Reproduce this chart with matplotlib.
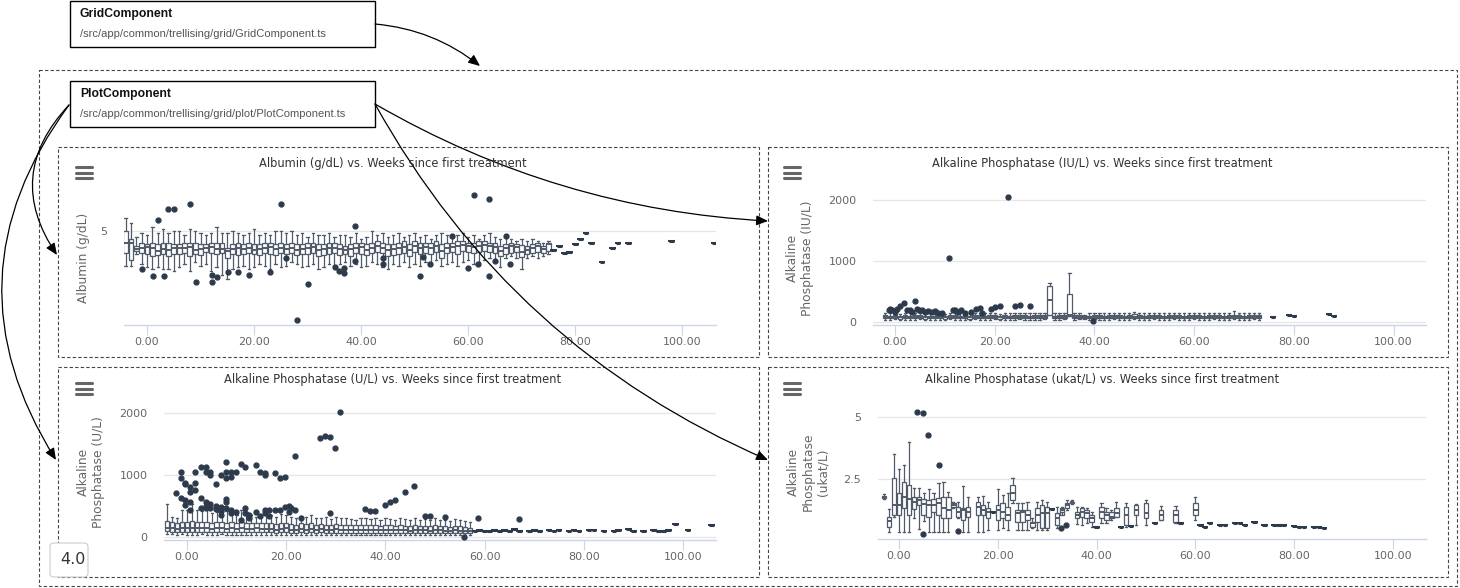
import matplotlib
matplotlib.use('Agg')
import matplotlib.pyplot as plt
from matplotlib.patches import Rectangle, FancyArrowPatch, FancyBboxPatch

W, H = 1460, 588
CF = ['DejaVu Sans']
BOXC = '#505a68'
DOTC = '#2c3a4b'

# ---------------- data ----------------
x_ticks = [0, 20, 40, 60, 80, 100]
x_labels = ['0.00', '20.00', '40.00', '60.00', '80.00', '100.00']

# Panel 1: Albumin (g/dL)
alb_wk = [-4, -3, -2, -1, 0, 1, 2, 3, 4, 5, 6, 7, 8, 9, 10, 11, 12, 13, 14, 15,
          16, 17, 18, 19, 20, 21, 22, 23, 24, 25, 26, 27, 28, 29, 30, 31, 32, 33, 34, 35,
          36, 37, 38, 39, 40, 41, 42, 43, 44, 45, 46, 47, 48, 49, 50, 51, 52, 53, 54, 55,
          56, 57, 58, 59, 60, 61, 62, 63, 64, 65, 66, 67, 68, 69, 70, 71, 72, 73, 74, 75]
alb_lo = [3.2, 3.2, 3.8, 3.3, 3.1, 3.0, 3.1, 3.0, 3.0, 2.9, 3.1, 3.3, 2.9, 3.4, 3.2, 3.3, 2.9, 3.1, 2.7, 2.5,
          3.0, 3.1, 3.2, 3.0, 3.1, 3.3, 3.2, 3.0, 3.3, 3.1, 3.2, 3.4, 3.3, 3.1, 3.2, 3.3, 3.0, 3.1, 3.3, 3.2,
          3.3, 3.4, 3.2, 3.3, 3.1, 3.2, 3.4, 3.3, 3.1, 3.0, 3.3, 3.2, 3.4, 3.1, 3.3, 3.2, 3.4, 3.3, 3.5, 3.2,
          3.3, 3.4, 3.2, 3.4, 3.5, 3.3, 3.4, 3.5, 3.6, 3.4, 3.1, 3.6, 3.7, 3.6, 3.0, 3.6, 3.7, 3.6, 3.7, 3.8]
alb_q1 = [3.85, 3.5, 3.95, 3.85, 3.8, 3.7, 3.75, 3.8, 3.7, 3.8, 3.8, 3.85, 3.7, 3.8, 3.75, 3.9, 3.85, 3.8, 3.85, 3.6,
          3.8, 3.75, 3.8, 3.85, 3.8, 3.75, 3.85, 3.8, 3.75, 3.85, 3.8, 3.85, 3.75, 3.8, 3.8, 3.85, 3.7, 3.75, 3.8, 3.85,
          3.75, 3.8, 3.7, 3.85, 3.8, 3.75, 3.85, 3.9, 3.85, 3.7, 3.75, 3.8, 3.85, 3.7, 3.9, 3.8, 3.85, 3.8, 3.9, 3.6,
          3.85, 3.9, 3.8, 3.95, 3.9, 3.85, 3.9, 3.95, 3.9, 3.85, 3.7, 3.8, 3.85, 3.9, 3.65, 3.8, 3.85, 3.9, 3.85, 3.95]
alb_med = [4.35, 4.4, 4.05, 4.1, 4.15, 4.1, 3.95, 4.05, 4.0, 4.1, 4.1, 4.1, 4.15, 4.0, 4.05, 4.1, 4.15, 4.05, 4.05, 3.95,
           4.05, 4.1, 4.05, 4.1, 4.0, 4.05, 4.1, 4.15, 4.05, 4.1, 4.05, 4.1, 4.0, 4.05, 4.1, 4.15, 4.0, 4.05, 4.1, 4.1,
           4.05, 4.0, 4.05, 4.1, 4.15, 4.0, 4.1, 4.2, 4.1, 4.0, 4.05, 4.1, 4.15, 4.0, 4.2, 4.1, 4.15, 4.1, 4.2, 3.95,
           4.1, 4.15, 4.2, 4.25, 4.2, 4.15, 4.2, 4.25, 4.2, 4.15, 3.95, 4.1, 4.2, 4.15, 3.9, 4.0, 4.1, 4.2, 4.05, 4.3]
alb_q3 = [5.0, 4.6, 4.2, 4.4, 4.3, 4.4, 4.3, 4.4, 4.4, 4.3, 4.3, 4.4, 4.4, 4.4, 4.3, 4.3, 4.4, 4.4, 4.4, 4.1,
          4.3, 4.4, 4.3, 4.4, 4.3, 4.3, 4.4, 4.4, 4.3, 4.4, 4.3, 4.4, 4.3, 4.3, 4.4, 4.4, 4.3, 4.3, 4.4, 4.4,
          4.3, 4.2, 4.3, 4.4, 4.4, 4.3, 4.4, 4.5, 4.4, 4.3, 4.3, 4.4, 4.5, 4.3, 4.5, 4.4, 4.4, 4.4, 4.5, 4.3,
          4.4, 4.4, 4.5, 4.5, 4.4, 4.4, 4.5, 4.5, 4.4, 4.4, 4.2, 4.3, 4.35, 4.3, 4.25, 4.2, 4.3, 4.35, 4.2, 4.4]
alb_hi = [5.7, 5.4, 4.7, 4.9, 4.8, 5.2, 4.9, 5.1, 4.9, 5.0, 5.0, 4.8, 5.1, 5.0, 4.9, 4.8, 4.9, 5.2, 4.9, 4.9,
          5.0, 4.9, 4.8, 4.9, 5.1, 4.8, 4.9, 4.8, 5.0, 5.0, 4.9, 5.0, 4.8, 4.9, 4.7, 4.9, 4.8, 4.8, 4.9, 4.7,
          4.8, 4.8, 4.7, 4.9, 4.6, 4.7, 5.0, 4.8, 4.9, 4.7, 4.8, 4.9, 4.7, 4.8, 4.9, 4.7, 4.8, 4.6, 4.8, 4.9,
          4.8, 4.7, 4.8, 4.9, 4.7, 4.8, 4.6, 4.8, 4.9, 4.7, 4.6, 4.7, 4.6, 4.5, 4.6, 4.5, 4.6, 4.5, 4.4, 4.5]
alb_single_wk = [76, 77, 78, 79, 80, 81, 82, 83, 85, 87, 88, 90, 98, 106]
alb_single_v = [4.0, 4.2, 3.85, 3.9, 4.3, 4.6, 4.88, 4.4, 3.38, 4.1, 4.4, 4.4, 4.5, 4.4]
alb_out_wk = [-0.9, 2.1, 1.1, 3.2, 4.0, 5.0, 8.0, 9.1, 12.1, 12.1, 13.1, 15.1, 17.0, 19.0, 23.0, 25.0, 26.0,
              28.0, 30.0, 35.1, 35.9, 36.8, 36.8, 38.9, 38.9, 44.0, 44.0, 51.0, 51.6, 52.9, 57.0, 60.0,
              61.0, 61.9, 63.9, 63.9, 65.0, 67.9, 67.1]
alb_out_v = [3.02, 5.57, 2.66, 2.66, 6.15, 6.15, 6.4, 2.35, 2.7, 2.35, 2.6, 2.87, 2.87, 2.7, 2.87, 6.4, 3.6,
             0.36, 2.24, 3.12, 2.9, 3.05, 2.8, 5.26, 3.44, 3.6, 3.3, 2.66, 3.65, 3.3, 4.73, 3.05,
             6.9, 3.3, 6.66, 2.66, 3.44, 3.3, 4.75]

# Panel 2: Alkaline Phosphatase (IU/L)
iu_wk = [-2, -1, 0, 1, 2, 3, 4, 5, 6, 7, 8, 9, 10, 11, 12, 13, 14, 15, 16, 17,
         18, 19, 20, 21, 22, 23, 24, 25, 26, 27, 28, 29, 30, 32, 33, 34, 36, 37, 38, 39,
         40, 41, 42, 43, 44, 45, 46, 47, 48, 49, 50, 51, 52, 53, 54, 55, 56, 57, 58, 59,
         60, 61, 62, 63, 64, 65, 66, 67, 68, 69, 70, 71, 72, 73]
iu_lo = [40, 35, 45, 30, 40, 35, 40, 45, 30, 40, 35, 40, 30, 45, 40, 35, 40, 30, 45, 40,
         35, 40, 45, 30, 40, 35, 40, 45, 40, 35, 40, 40, 45, 35, 40, 45, 40, 45, 50, 40,
         45, 40, 35, 40, 45, 40, 35, 40, 45, 40, 35, 40, 45, 40, 35, 40, 45, 40, 35, 40,
         45, 40, 35, 40, 45, 40, 35, 40, 45, 40, 35, 40, 45, 40]
iu_q1 = [65, 60, 70, 55, 65, 60, 70, 65, 55, 60, 60, 65, 55, 70, 65, 60, 65, 55, 70, 65,
         60, 65, 70, 55, 65, 60, 65, 70, 65, 60, 65, 65, 70, 60, 65, 70, 65, 70, 72, 60,
         70, 65, 60, 65, 70, 65, 60, 65, 70, 65, 60, 65, 70, 65, 60, 65, 70, 65, 60, 65,
         70, 65, 60, 65, 70, 65, 60, 65, 70, 65, 60, 65, 70, 65]
iu_med = [85, 80, 90, 75, 85, 80, 90, 85, 75, 80, 80, 85, 75, 90, 85, 80, 85, 75, 90, 85,
          80, 85, 90, 75, 85, 80, 85, 90, 85, 80, 85, 85, 90, 80, 85, 90, 85, 90, 85, 80,
          90, 85, 80, 85, 90, 85, 80, 85, 90, 85, 80, 85, 90, 85, 80, 85, 90, 85, 80, 85,
          90, 85, 80, 85, 90, 85, 80, 85, 90, 85, 80, 85, 90, 85]
iu_q3 = [110, 105, 120, 100, 110, 105, 115, 110, 100, 105, 105, 110, 100, 115, 110, 105, 110, 100, 115, 110,
         105, 110, 115, 100, 110, 105, 110, 115, 110, 105, 110, 110, 115, 105, 110, 115, 110, 115, 100, 105,
         115, 110, 105, 110, 115, 110, 105, 110, 125, 110, 105, 110, 115, 110, 105, 110, 115, 110, 105, 110,
         115, 110, 105, 110, 115, 110, 105, 110, 115, 110, 105, 110, 115, 110]
iu_hi = [150, 140, 160, 130, 150, 140, 155, 150, 130, 140, 140, 150, 130, 155, 150, 140, 150, 130, 155, 150,
         140, 150, 155, 130, 150, 140, 150, 155, 150, 140, 150, 150, 155, 140, 150, 155, 150, 155, 120, 140,
         155, 150, 140, 150, 155, 150, 140, 150, 170, 150, 140, 150, 155, 150, 140, 150, 155, 150, 140, 150,
         155, 150, 140, 150, 155, 150, 140, 150, 175, 150, 140, 150, 155, 150]
iu_big_wk = [31, 35]
iu_big_lo = [110, 100]
iu_big_q1 = [115, 105]
iu_big_med = [360, 110]
iu_big_q3 = [595, 460]
iu_big_hi = [645, 808]
iu_single_wk = [75.8, 79, 80, 87, 88]
iu_single_v = [90, 120, 105, 125, 95]
iu_out_wk = [-1.2, -1.0, -0.6, 0.0, 0.5, 1.0, 1.9, 2.5, 3.0, 3.5, 4.0, 4.4, 4.8, 5.5, 6.0, 6.6, 7.5, 8.0,
             8.6, 9.5, 10.9, 11.6, 12.1, 12.6, 13.3, 14.0, 15.3, 16.2, 17.0, 17.4, 19.2, 20.0, 21.1, 22.7,
             24.1, 25.0, 27.0, 39.8]
iu_out_v = [200, 215, 200, 160, 210, 265, 315, 190, 200, 165, 345, 210, 190, 190, 170, 180, 160, 175,
            150, 140, 1050, 200, 205, 170, 200, 140, 170, 210, 225, 150, 210, 250, 260, 2050,
            265, 275, 265, 20]

# Panel 3: Alkaline Phosphatase (U/L)
ul_wk = [-4, -3, -2, -1, 0, 1, 2, 3, 4, 5, 6, 7, 8, 9, 10, 11, 12, 13, 14, 15,
         16, 17, 18, 19, 20, 21, 22, 23, 24, 25, 26, 27, 28, 29, 30, 31, 32, 33, 34, 35,
         36, 37, 38, 39, 40, 41, 42, 43, 44, 45, 46, 47, 48, 49, 50, 51, 52, 53, 54, 55,
         56, 57]
ul_hi = [540, 330, 300, 440, 430, 540, 440, 420, 470, 380, 400, 470, 420, 380, 360, 430, 400, 360, 330, 340,
         380, 360, 330, 370, 350, 320, 300, 340, 330, 360, 300, 310, 320, 290, 330, 300, 310, 290, 280, 300,
         310, 290, 300, 280, 310, 290, 280, 300, 290, 270, 300, 280, 290, 270, 300, 280, 270, 260, 290, 280,
         260, 250]
ul_q3 = [260, 240, 230, 250, 240, 260, 250, 240, 250, 230, 240, 250, 230, 240, 220, 240, 230, 220, 230, 220,
         230, 220, 210, 220, 230, 210, 200, 220, 210, 220, 200, 210, 200, 190, 210, 200, 190, 200, 190, 200,
         190, 200, 190, 180, 200, 190, 180, 190, 180, 170, 190, 180, 180, 170, 190, 180, 170, 160, 180, 170,
         160, 150]
ul_med = [150, 140, 130, 150, 140, 150, 140, 140, 150, 130, 140, 150, 130, 140, 130, 140, 130, 130, 140, 130,
          130, 130, 120, 130, 140, 120, 120, 130, 120, 130, 120, 130, 120, 115, 125, 120, 115, 120, 115, 120,
          115, 120, 115, 110, 120, 115, 110, 115, 110, 105, 115, 110, 110, 105, 115, 110, 105, 100, 110, 105,
          100, 95]
ul_q1 = [90, 80, 75, 85, 80, 85, 80, 80, 85, 75, 80, 85, 75, 80, 75, 80, 75, 75, 80, 75,
         75, 75, 70, 75, 80, 70, 70, 75, 70, 75, 70, 75, 70, 68, 72, 70, 68, 70, 68, 70,
         68, 70, 68, 65, 70, 68, 65, 68, 65, 62, 68, 65, 65, 62, 68, 65, 62, 60, 65, 62,
         60, 58]
ul_lo = [50, 45, 40, 45, 35, 40, 30, 45, 40, 35, 40, 45, 35, 40, 35, 40, 35, 35, 40, 35,
         35, 40, 30, 35, 40, 30, 35, 40, 30, 35, 30, 35, 30, 35, 40, 30, 35, 30, 35, 30,
         35, 30, 35, 30, 35, 30, 35, 30, 35, 30, 35, 30, 35, 30, 35, 30, 25, 30, 35, 30,
         30, 25]
ul_single_wk = [58, 59, 60, 61, 62, 63, 64, 65, 66, 67, 69, 70, 71, 73, 74, 75, 77, 78, 79, 81,
                82, 84, 86, 87, 89, 90, 92, 94, 95, 96, 97, 98.4, 101, 105.7]
ul_single_v = [100, 110, 95, 105, 120, 100, 110, 95, 130, 100, 105, 115, 100, 120, 95, 110, 105, 115, 100, 110,
               120, 100, 105, 110, 125, 100, 105, 110, 95, 100, 120, 205, 110, 200]
ul_out_wk = [-2.2, -1.2, -1.2, -1.2, -0.3, -0.3, -0.3, -0.3, 0.7, 0.7, 0.7, 0.7, 1.6, 1.6, 1.6, 2.8, 2.8, 2.8,
             3.8, 3.8, 3.8, 3.8, 3.8, 4.6, 4.6, 4.6, 4.6, 5.8, 5.8, 5.8, 6.8, 6.8, 6.8, 6.8, 7.8, 7.8,
             7.8, 7.8, 7.8, 7.8, 8.9, 8.9, 8.9, 8.9, 9.9, 9.9, 10.9, 10.9, 11.7, 11.7, 11.7, 12.5, 12.5,
             13.9, 13.9, 14.7, 14.7, 15.7, 15.7, 15.7, 15.7, 16.5, 16.5, 17.7, 17.7, 18.7, 18.7, 19.7,
             19.7, 20.5, 20.5, 20.9, 21.8, 21.8, 23.0, 26.8, 27.8, 28.8, 29.8, 30.8, 28.8, 35.9, 36.9,
             37.9, 39.9, 40.9, 41.9, 44.0, 45.8, 55.9, 48.0, 49.0, 52.0, 58.7, 67.0]
ul_out_v = [715, 1053, 946, 634, 870, 850, 597, 516, 811, 731, 569, 435, 1043, 866, 758, 634, 476, 1134,
            1134, 1053, 560, 500, 470, 1043, 1000, 530, 470, 850, 500, 450, 1000, 480, 420, 360, 1215, 1053,
            946, 620, 560, 470, 962, 1043, 440, 380, 1043, 400, 1172, 270, 1124, 470, 380, 300, 350,
            1161, 400, 1050, 340, 1000, 1030, 440, 390, 430, 340, 1027, 430, 960, 440, 965,
            490, 500, 400, 470, 1311, 430, 300, 1602, 1634, 1612, 1441, 2011, 382, 452, 419,
            419, 516, 569, 597, 721, 823, 5, 340, 340, 330, 300, 290]

# Panel 4: Alkaline Phosphatase (ukat/L)
uk_wk = [-3, -2, -1, 0, 1, 2, 3, 4, 5, 6, 7, 8, 9, 10, 11, 12, 13, 14, 16, 17,
         18, 20, 21, 22, 23, 24, 25, 26, 27, 28, 29, 30, 32, 33, 34, 35, 36, 37, 38, 39,
         41, 42, 43, 44, 46, 48, 50, 53, 56, 60]
uk_lo = [1.70, 0.38, 0.98, 0.38, 0.38, 0.38, 0.94, 0.47, 0.81, 0.38, 0.38, 0.38, 0.38, 0.38, 1.32, 0.91, 0.38, 0.38, 0.38, 0.38,
         0.45, 0.45, 0.51, 0.45, 1.52, 0.45, 0.45, 0.45, 0.51, 0.45, 0.45, 0.45, 0.51, 1.18, 1.25, 1.50, 0.68, 0.65, 0.72, 0.58,
         0.72, 0.72, 0.85, 0.98, 0.58, 0.65, 0.65, 0.85, 0.72, 0.85]
uk_q1 = [1.72, 0.58, 1.05, 1.05, 1.32, 1.05, 1.29, 1.45, 1.05, 0.98, 1.18, 1.05, 0.94, 0.91, 1.39, 0.98, 0.85, 0.98, 1.05, 1.05,
         0.91, 0.85, 0.91, 0.85, 1.66, 0.78, 0.78, 0.85, 0.58, 0.78, 0.51, 0.51, 0.65, 1.05, 1.32, 1.52, 0.91, 0.98, 0.91, 0.78,
         0.91, 0.85, 0.91, 0.98, 0.65, 1.05, 0.92, 0.85, 0.78, 1.05]
uk_med = [1.78, 0.81, 1.45, 1.45, 1.79, 1.70, 1.59, 1.66, 1.48, 1.45, 1.45, 1.52, 1.32, 1.25, 1.45, 1.18, 1.25, 1.18, 1.39, 1.25,
          1.18, 1.25, 1.18, 1.05, 1.95, 1.12, 1.18, 1.05, 0.72, 1.05, 1.12, 1.12, 0.91, 1.25, 1.45, 1.56, 1.05, 1.18, 1.12, 0.91,
          1.18, 1.05, 0.98, 1.12, 1.05, 1.25, 1.12, 1.05, 1.05, 1.25]
uk_q3 = [1.82, 0.98, 2.53, 1.95, 2.37, 2.26, 1.76, 1.79, 1.70, 1.66, 1.68, 1.72, 1.79, 1.79, 1.52, 1.39, 1.32, 1.39, 1.59, 1.45,
         1.32, 1.45, 1.52, 1.39, 2.26, 1.25, 1.25, 1.25, 0.78, 1.32, 1.45, 1.39, 1.12, 1.32, 1.52, 1.59, 1.18, 1.32, 1.25, 1.05,
         1.39, 1.18, 1.18, 1.32, 1.38, 1.45, 1.52, 1.25, 1.25, 1.52]
uk_hi = [1.90, 1.29, 3.50, 2.90, 3.07, 3.98, 2.13, 2.13, 1.93, 2.10, 1.93, 2.33, 2.37, 1.97, 1.59, 1.59, 2.20, 1.79, 1.79, 1.83,
         1.59, 2.10, 1.86, 1.93, 2.55, 1.52, 1.52, 1.59, 0.91, 1.59, 1.66, 1.59, 1.39, 1.39, 1.66, 1.66, 1.39, 1.39, 1.35, 1.18,
         1.52, 1.32, 1.25, 1.59, 1.52, 1.50, 1.65, 1.40, 1.40, 1.79]
uk_single_wk = [19, 31, 40, 45, 47, 51.8, 57, 61, 62, 63, 65, 66, 68, 69, 70, 72, 74, 76, 77, 78,
                80, 81, 82, 84, 85, 86]
uk_single_v = [1.18, 1.29, 0.58, 0.58, 0.62, 0.72, 0.72, 0.65, 0.58, 0.71, 0.65, 0.65, 0.71, 0.71, 0.65, 0.78, 0.65, 0.65, 0.65, 0.65,
               0.62, 0.58, 0.58, 0.58, 0.58, 0.54]
uk_out_wk = [3.7, 4.9, 5.8, 8.0, 4.9, 12.0, 32.9, 33.9]
uk_out_v = [5.21, 5.18, 4.27, 3.06, 0.30, 0.40, 0.51, 0.64]

# ---------------- drawing ----------------
fig = plt.figure(figsize=(W / 100, H / 100), dpi=100)


def rect(x0, y0, x1, y1):
    return [x0 / W, 1 - y1 / H, (x1 - x0) / W, (y1 - y0) / H]


def boxes(ax, wk, lo, q1, med, q3, hi, width=0.9):
    stats = [dict(whislo=a, q1=b, med=c, q3=d, whishi=e)
             for a, b, c, d, e in zip(lo, q1, med, q3, hi)]
    ax.bxp(stats, positions=wk[:len(stats)], widths=width, showfliers=False, patch_artist=True,
           manage_ticks=False, capwidths=width * 0.5,
           boxprops=dict(facecolor='white', edgecolor=BOXC, lw=0.9),
           medianprops=dict(color=BOXC, lw=1.4),
           whiskerprops=dict(color=BOXC, lw=0.9),
           capprops=dict(color=BOXC, lw=0.9))


def singles(ax, wk, v):
    ax.bxp([dict(whislo=a, q1=a, med=a, q3=a, whishi=a) for a in v], positions=wk,
           widths=0.9, showfliers=False, manage_ticks=False, showcaps=False,
           boxprops=dict(color=DOTC, lw=1.2), medianprops=dict(color=DOTC, lw=2.2),
           whiskerprops=dict(color=DOTC, lw=0.5))


def outliers(ax, wk, v):
    ax.plot(wk, v, 'o', ms=3.5, color=DOTC, mec=DOTC, zorder=5, clip_on=False)


def setup(ax, xlim, ylim, yticks, ylabels):
    ax.set_xlim(*xlim)
    ax.set_ylim(*ylim)
    ax.patch.set_alpha(0)
    for s in ['top', 'right', 'left']:
        ax.spines[s].set_visible(False)
    ax.spines['bottom'].set_color('#ccd6eb')
    ax.spines['bottom'].set_linewidth(1.0)
    ax.set_xticks(x_ticks)
    ax.set_xticklabels(x_labels, family=CF)
    ax.set_yticks(yticks)
    ax.set_yticklabels(ylabels, family=CF)
    ax.tick_params(axis='x', length=7, width=0.8, color='#ccd6eb', labelcolor='#666666',
                   labelsize=8, pad=1.5)
    ax.tick_params(axis='y', length=0, pad=12, labelcolor='#666666', labelsize=8)
    ax.grid(axis='y', color='#e6e6e6', lw=0.9)
    ax.set_axisbelow(True)


ax1 = fig.add_axes(rect(124, 185, 716, 325))
setup(ax1, (-4.3, 106.3), (0.1, 7.4), [5], ['5'])
boxes(ax1, alb_wk, alb_lo, alb_q1, alb_med, alb_q3, alb_hi)
singles(ax1, alb_single_wk, alb_single_v)
outliers(ax1, alb_out_wk, alb_out_v)

ax2 = fig.add_axes(rect(873, 186, 1426, 325))
setup(ax2, (-4.4, 106.5), (-49, 2230), [0, 1000, 2000], ['0', '1000', '2000'])
boxes(ax2, iu_wk, iu_lo, iu_q1, iu_med, iu_q3, iu_hi)
boxes(ax2, iu_big_wk, iu_big_lo, iu_big_q1, iu_big_med, iu_big_q3, iu_big_hi)
singles(ax2, iu_single_wk, iu_single_v)
outliers(ax2, iu_out_wk, iu_out_v)

ax3 = fig.add_axes(rect(164, 400, 716, 540))
setup(ax3, (-4.6, 106.6), (-48, 2210), [0, 1000, 2000], ['0', '1000', '2000'])
boxes(ax3, ul_wk, ul_lo, ul_q1, ul_med, ul_q3, ul_hi)
singles(ax3, ul_single_wk, ul_single_v)
outliers(ax3, ul_out_wk, ul_out_v)

ax4 = fig.add_axes(rect(878, 400, 1426, 539))
setup(ax4, (-4.25, 106.7), (0.08, 5.69), [2.5, 5], ['2.5', '5'])
boxes(ax4, uk_wk, uk_lo, uk_q1, uk_med, uk_q3, uk_hi)
singles(ax4, uk_single_wk, uk_single_v)
outliers(ax4, uk_out_wk, uk_out_v)

# ---------------- overlay (diagram) ----------------
ov = fig.add_axes([0, 0, 1, 1], zorder=10)
ov.set_xlim(0, W)
ov.set_ylim(H, 0)
ov.axis('off')
ov.patch.set_alpha(0)

dash = dict(fill=False, ec='#444444', lw=0.8, ls=(0, (3, 2)))
ov.add_patch(Rectangle((39, 70), 1418, 516, **dash))
for (x0, y0, x1, y1) in [(58, 147, 759, 357), (768, 147, 1448, 357),
                         (58, 367, 759, 577), (768, 367, 1448, 577)]:
    ov.add_patch(Rectangle((x0, y0), x1 - x0, y1 - y0, **dash))

# titles
titles = ['Albumin (g/dL) vs. Weeks since first treatment',
          'Alkaline Phosphatase (IU/L) vs. Weeks since first treatment',
          'Alkaline Phosphatase (U/L) vs. Weeks since first treatment',
          'Alkaline Phosphatase (ukat/L) vs. Weeks since first treatment']
for t, (x, y) in zip(titles, [(393, 163), (1102, 163), (393, 379), (1102, 379)]):
    ov.text(x, y, t, ha='center', va='center', fontsize=8.3, color='#333333', family=CF)

ylabs = ['Albumin (g/dL)', 'Alkaline\nPhosphatase (IU/L)', 'Alkaline\nPhosphatase (U/L)',
         'Alkaline\nPhosphatase\n(ukat/L)']
for t, (x, y) in zip(ylabs, [(84, 258), (800, 258), (91, 472), (808, 472)]):
    ov.text(x, y, t, ha='center', va='center', rotation=90, fontsize=8.8, color='#666666',
            family=CF, linespacing=1.2, multialignment='center')

# hamburger icons
for (x, y) in [(76, 167), (784, 167), (76, 383), (784, 383)]:
    for dy in (0, 5.7, 11.4):
        ov.plot([x, x + 16], [y + dy, y + dy], color='#666666', lw=2.2, solid_capstyle='round')

# component boxes
for (y0, name, path) in [(1, 'GridComponent', '/src/app/common/trellising/grid/GridComponent.ts'),
                         (81, 'PlotComponent', '/src/app/common/trellising/grid/plot/PlotComponent.ts')]:
    ov.add_patch(Rectangle((71, y0 + 1), 305, 46, fc='#999999', ec='none'))
    ov.add_patch(Rectangle((70, y0), 305, 46, fc='white', ec='black', lw=1.0))
    ov.text(80, y0 + 13, name, ha='left', va='center', fontsize=8.7, fontweight='bold',
            color='#111111', family=['Liberation Sans', 'DejaVu Sans'])
    ov.text(80, y0 + 33, path, ha='left', va='center', fontsize=8.0,
            color='#555555', family=['Liberation Sans', 'DejaVu Sans'])

# version box
ov.add_patch(FancyBboxPatch((50, 543), 38, 34, boxstyle='round,pad=0,rounding_size=4',
                            fc='white', ec='#cccccc', lw=0.8))
ov.text(60, 560, '4.0', ha='left', va='center', fontsize=11.5, color='#333333', family=CF)

# arrows
astyle = '-|>,head_length=0.7,head_width=0.3'
for (p0, p1, rad) in [((375, 24), (480, 66), -0.15),
                      ((69, 105), (57, 255), 0.4),
                      ((69, 105), (56, 460), 0.34),
                      ((375, 104), (768, 221), 0.12),
                      ((375, 104), (768, 460), 0.17)]:
    ov.add_patch(FancyArrowPatch(p0, p1, connectionstyle=f'arc3,rad={rad}', arrowstyle=astyle,
                                 mutation_scale=10, lw=0.9, color='black', shrinkA=0, shrinkB=0))

fig.savefig('out.png', dpi=100)
